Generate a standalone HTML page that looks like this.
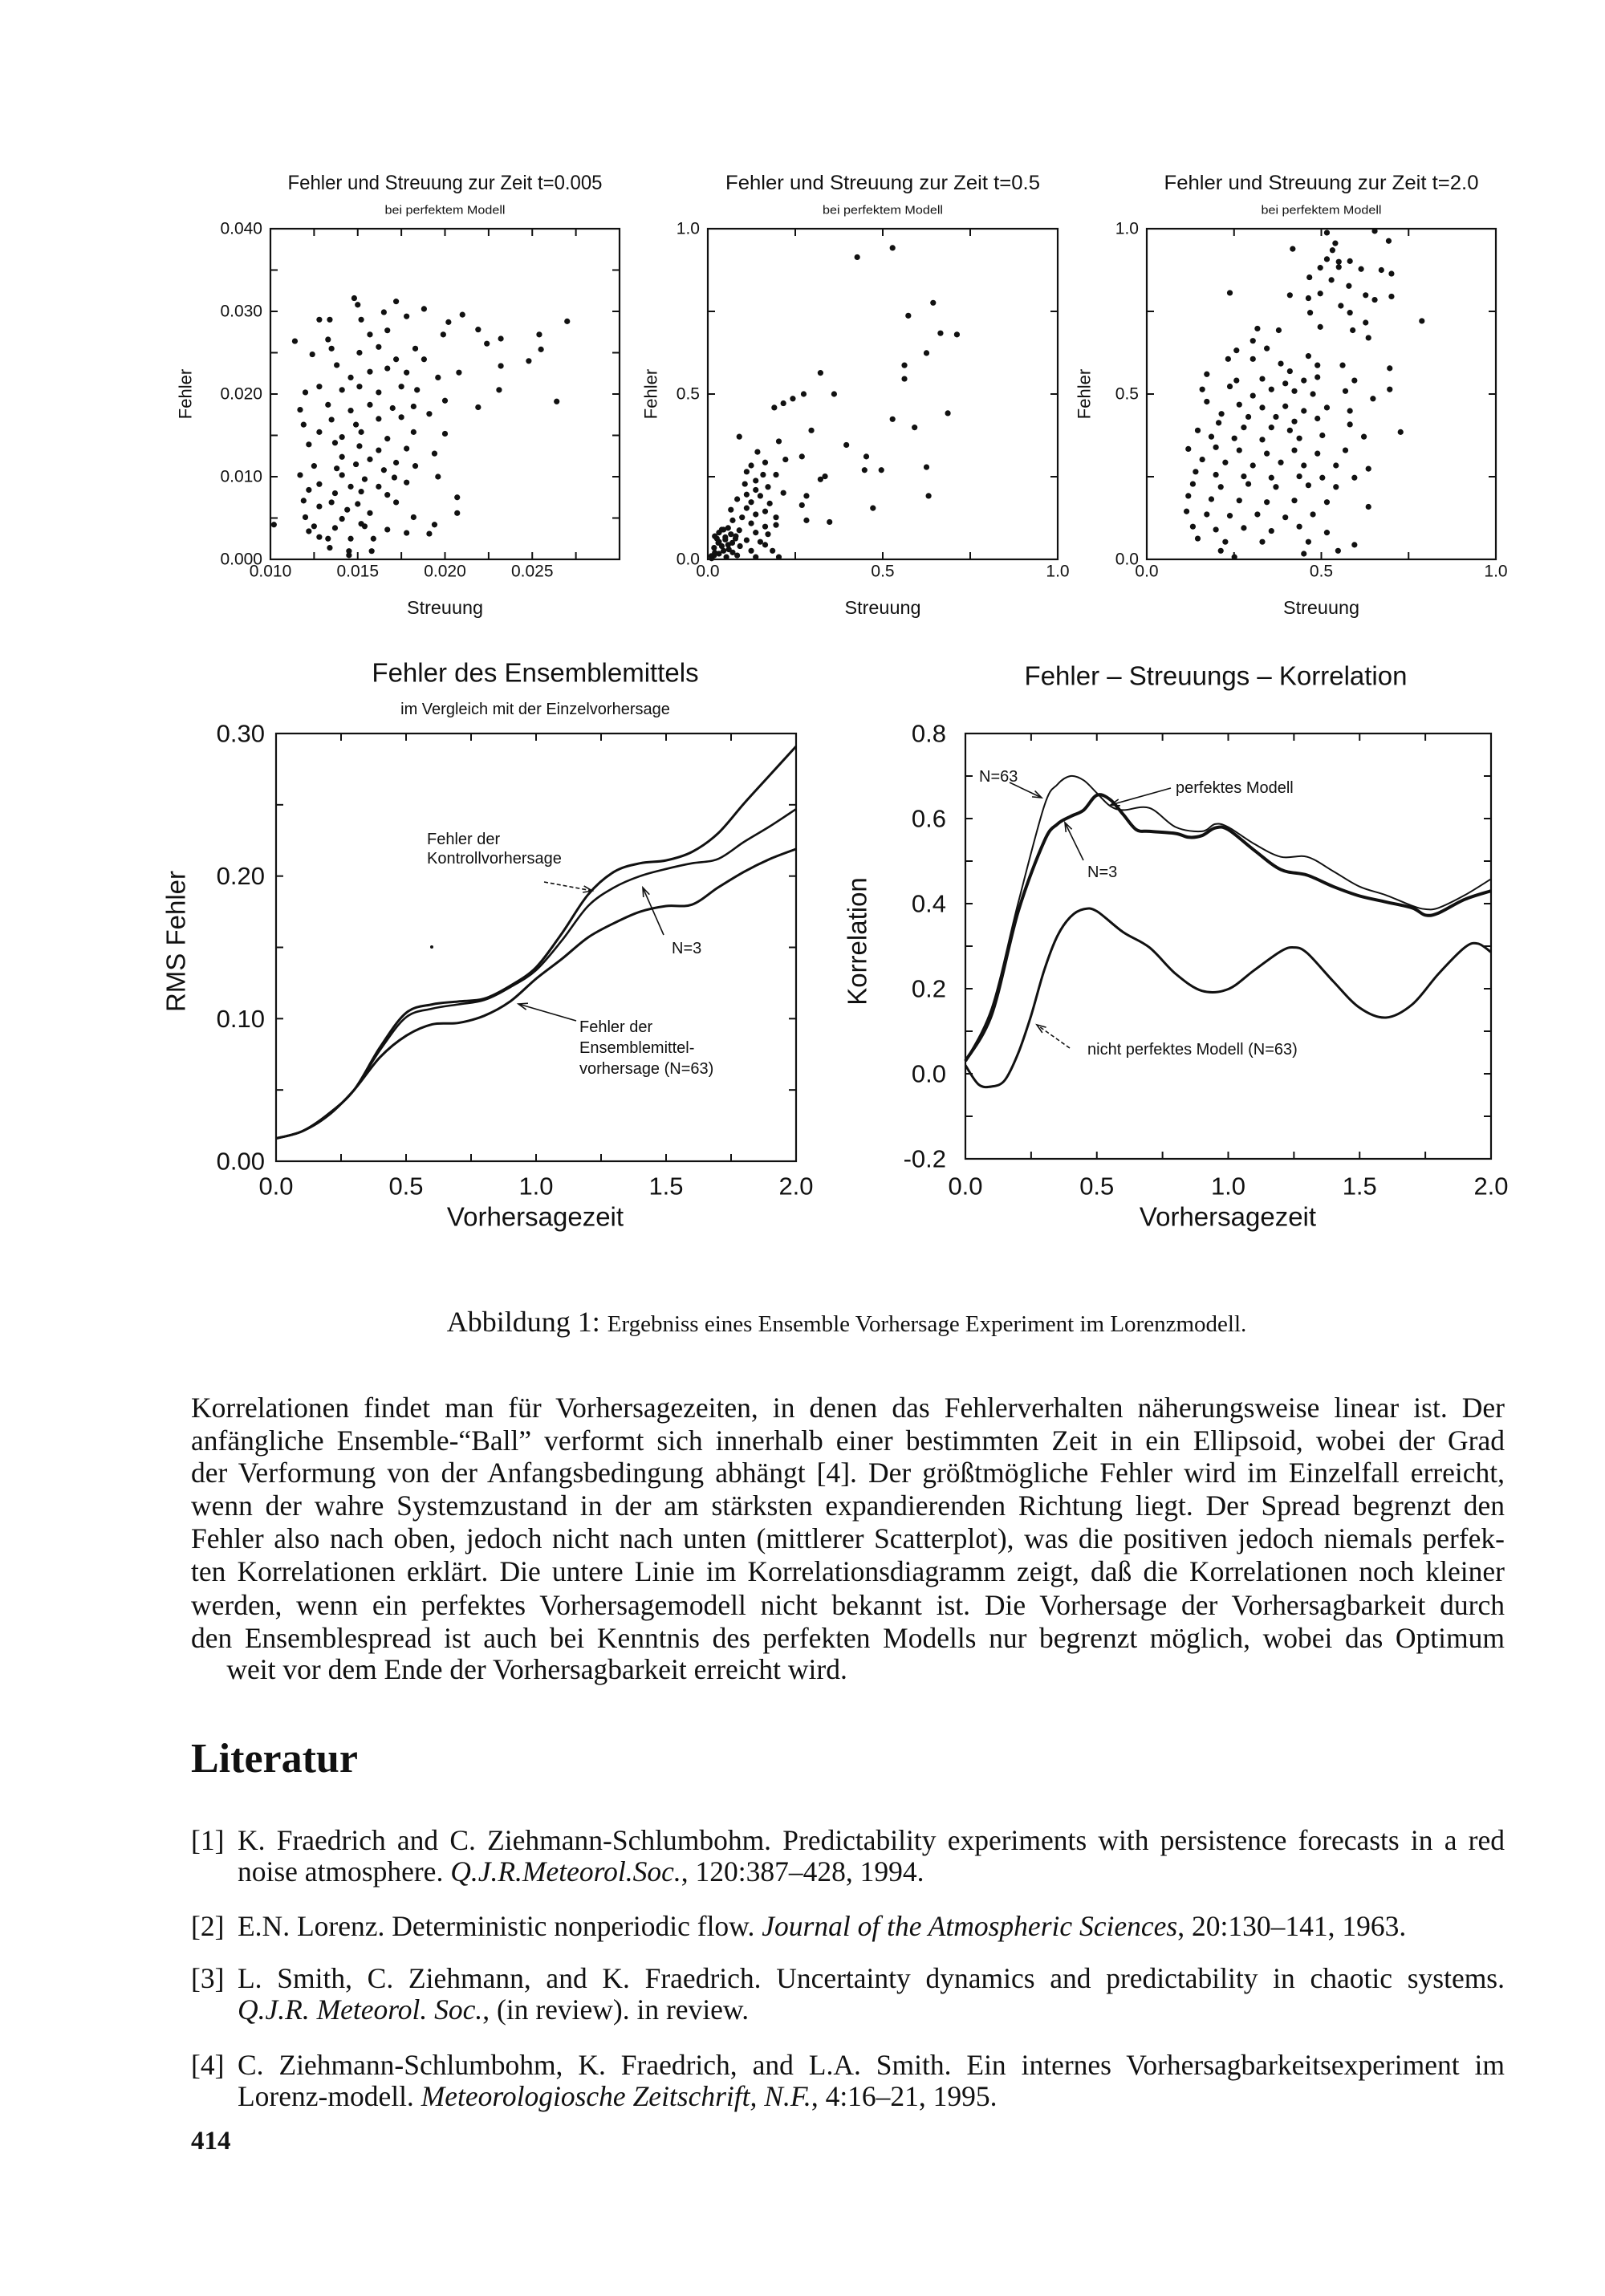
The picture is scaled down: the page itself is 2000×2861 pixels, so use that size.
<!DOCTYPE html>
<html><head><meta charset="utf-8">
<style>
html,body{margin:0;padding:0;background:#fff;}
body{width:2000px;height:2861px;position:relative;overflow:hidden;}
.t{position:absolute;font-family:"Liberation Serif",serif;color:#111;white-space:nowrap;}
.ln{position:absolute;left:238px;width:1637px;font-family:"Liberation Serif",serif;font-size:35.5px;color:#111;text-align:justify;text-align-last:justify;white-space:nowrap;line-height:40px;}
.rl{position:absolute;left:296px;width:1579px;font-family:"Liberation Serif",serif;font-size:35.5px;color:#111;text-align:justify;text-align-last:justify;white-space:nowrap;line-height:40px;}
.ln.last,.rl.last{text-align:left;text-align-last:left;}
</style></head>
<body>
<svg id="fig" width="2000" height="1580" style="position:absolute;left:0;top:0" xmlns="http://www.w3.org/2000/svg" font-family="Liberation Sans, sans-serif"></svg>

<div class="t" style="left:0;width:2110px;text-align:center;top:1626px;font-size:36px;">Abbildung 1: <span style="font-size:29px">Ergebniss eines Ensemble Vorhersage Experiment im Lorenzmodell.</span></div>

<div>
<div class="ln" style="top:1734px">Korrelationen findet man für Vorhersagezeiten, in denen das Fehlerverhalten näherungsweise linear ist. Der</div>
<div class="ln" style="top:1775px">anfängliche Ensemble-“Ball” verformt sich innerhalb einer bestimmten Zeit in ein Ellipsoid, wobei der Grad</div>
<div class="ln" style="top:1815px">der Verformung von der Anfangsbedingung abhängt [4]. Der größtmögliche Fehler wird im Einzelfall erreicht,</div>
<div class="ln" style="top:1856px">wenn der wahre Systemzustand in der am stärksten expandierenden Richtung liegt. Der Spread begrenzt den</div>
<div class="ln" style="top:1897px">Fehler also nach oben, jedoch nicht nach unten (mittlerer Scatterplot), was die positiven jedoch niemals perfek-</div>
<div class="ln" style="top:1938px">ten Korrelationen erklärt. Die untere Linie im Korrelationsdiagramm zeigt, daß die Korrelationen noch kleiner</div>
<div class="ln" style="top:1980px">werden, wenn ein perfektes Vorhersagemodell nicht bekannt ist. Die Vorhersage der Vorhersagbarkeit durch</div>
<div class="ln" style="top:2021px">den Ensemblespread ist auch bei Kenntnis des perfekten Modells nur begrenzt möglich, wobei das Optimum</div>
<div class="ln last" style="top:2060px">&nbsp;&nbsp;&nbsp;&nbsp;&nbsp;weit vor dem Ende der Vorhersagbarkeit erreicht wird.</div>
</div>

<div class="t" style="left:238px;top:2162px;font-size:52px;font-weight:bold;">Literatur</div>

<div>
<div class="t" style="left:238px;top:2273px;font-size:35.5px;line-height:40px;">[1]</div>
<div class="rl" style="top:2273px">K. Fraedrich and C. Ziehmann-Schlumbohm. Predictability experiments with persistence forecasts in a red</div>
<div class="rl last" style="top:2312px">noise atmosphere. <i>Q.J.R.Meteorol.Soc.</i>, 120:387–428, 1994.</div>
<div class="t" style="left:238px;top:2380px;font-size:35.5px;line-height:40px;">[2]</div>
<div class="rl last" style="top:2380px">E.N. Lorenz. Deterministic nonperiodic flow. <i>Journal of the Atmospheric Sciences</i>, 20:130–141, 1963.</div>
<div class="t" style="left:238px;top:2445px;font-size:35.5px;line-height:40px;">[3]</div>
<div class="rl" style="top:2445px">L. Smith, C. Ziehmann, and K. Fraedrich. Uncertainty dynamics and predictability in chaotic systems.</div>
<div class="rl last" style="top:2484px"><i>Q.J.R. Meteorol. Soc.</i>, (in review). in review.</div>
<div class="t" style="left:238px;top:2553px;font-size:35.5px;line-height:40px;">[4]</div>
<div class="rl" style="top:2553px">C. Ziehmann-Schlumbohm, K. Fraedrich, and L.A. Smith. Ein internes Vorhersagbarkeitsexperiment im</div>
<div class="rl last" style="top:2592px">Lorenz-modell. <i>Meteorologiosche Zeitschrift, N.F.</i>, 4:16–21, 1995.</div>
</div>
<div class="t" style="left:238px;top:2650px;font-size:33px;font-weight:bold;">414</div>

<script>
// ---------- data ----------
const s1Spread=[.0148,.0150,.0172,.0188,.0210,.0128,.0134,.0152,.0165,.0178,.0202,.0270,.0114,.0133,.0157,.0167,.0199,.0219,.0232,.0254,.0224,.0255,.0248,.0232,.0208,.0124,.0135,.0151,.0162,.0172,.0183,.0188,.0196,.0138,.0146,.0157,.0167,.0178,.0120,.0128,.0141,.0151,.0162,.0175,.0184,.0231,.0200,.0219,.0264,.0117,.0133,.0146,.0157,.0170,.0182,.0135,.0149,.0162,.0175,.0191,.0119,.0128,.0141,.0152,.0167,.0182,.0200,.0122,.0137,.0151,.0162,.0178,.0141,.0157,.0172,.0194,.0125,.0138,.0149,.0165,.0183,.0117,.0141,.0154,.0171,.0196,.0128,.0146,.0162,.0178,.0122,.0137,.0152,.0167,.0135,.0150,.0172,.0207,.0119,.0128,.0144,.0157,.0207,.0120,.0141,.0152,.0182,.0125,.0137,.0154,.0167,.0194,.0122,.0128,.0133,.0146,.0159,.0178,.0191,.0134,.0145,.0158,.0145,.0102];
const s1Error=[.0316,.0308,.0312,.0303,.0296,.029,.029,.029,.0299,.0294,.0287,.0288,.0264,.0266,.0272,.0277,.0272,.0278,.0267,.0272,.0261,.0254,.024,.0234,.0226,.0248,.0255,.025,.0257,.0242,.0255,.0242,.022,.0235,.022,.0227,.0231,.0226,.0202,.0209,.0205,.0209,.0202,.0209,.0205,.0205,.0192,.0184,.0191,.0181,.0187,.018,.0187,.0183,.0185,.0169,.0163,.017,.0172,.0176,.0163,.0154,.0148,.0154,.0146,.0154,.0152,.0139,.0141,.0137,.0132,.0134,.0124,.0121,.0117,.0128,.0113,.011,.0115,.0108,.0113,.0102,.0102,.0097,.0099,.01,.0091,.0088,.0088,.0093,.0084,.008,.0082,.0078,.0069,.0067,.0069,.0075,.0071,.0064,.006,.0056,.0056,.0051,.0049,.0043,.0051,.004,.0038,.004,.0036,.0042,.0034,.0027,.0025,.0025,.0025,.0032,.0031,.0014,.001,.001,.0005,.0042];
const s2Spread=[.528,.427,.644,.573,.665,.712,.625,.562,.562,.322,.274,.361,.243,.216,.19,.686,.528,.591,.296,.09,.203,.396,.142,.269,.453,.222,.164,.124,.625,.448,.496,.111,.158,.195,.335,.322,.137,.106,.172,.137,.216,.111,.150,.282,.631,.084,.124,.177,.269,.111,.472,.066,.164,.137,.098,.195,.282,.348,.071,.124,.164,.195,.058,.09,.137,.172,.032,.05,.079,.111,.15,.032,.058,.092,.018,.045,.071,.124,.203,.018,.032,.011,.053,.084,.137,.026,.066,.045,.164,.185,.02,.04,.03,.06,.01,.05,.07,.02,.04,.08];
const s2Error=[.942,.914,.776,.737,.684,.68,.624,.587,.546,.564,.5,.5,.486,.472,.459,.442,.424,.399,.39,.371,.357,.346,.325,.311,.311,.302,.293,.284,.279,.27,.27,.265,.256,.256,.251,.242,.238,.228,.219,.21,.201,.196,.192,.192,.192,.182,.173,.169,.164,.155,.155,.15,.145,.136,.127,.127,.118,.113,.118,.109,.099,.104,.095,.088,.081,.076,.081,.067,.063,.058,.053,.053,.044,.04,.035,.026,.021,.026,.007,.012,.017,.003,.007,.012,.007,.063,.076,.09,.044,.026,.02,.04,.05,.03,.01,.06,.05,.07,.09,.07];
const s3Spread=[.516,.653,.693,.54,.418,.532,.516,.55,.582,.497,.55,.614,.672,.466,.529,.579,.701,.238,.410,.463,.497,.627,.653,.701,.556,.468,.582,.627,.788,.497,.317,.378,.590,.304,.344,.635,.257,.463,.489,.233,.304,.384,.410,.561,.696,.172,.257,.331,.397,.450,.489,.595,.159,.238,.304,.357,.423,.476,.569,.696,.648,.172,.265,.331,.397,.450,.516,.582,.214,.291,.370,.423,.489,.206,.278,.357,.410,.582,.727,.146,.185,.251,.331,.437,.503,.622,.119,.198,.265,.344,.423,.489,.569,.159,.225,.304,.384,.450,.542,.635,.140,.198,.278,.357,.437,.503,.595,.132,.212,.291,.370,.463,.542,.119,.185,.265,.344,.423,.516,.114,.172,.238,.317,.397,.476,.635,.132,.198,.278,.357,.437,.516,.146,.225,.331,.463,.595,.212,.450,.251,.548];
const s3Error=[.988,.993,.963,.956,.939,.935,.908,.9,.902,.882,.884,.878,.875,.853,.845,.827,.864,.806,.799,.79,.804,.799,.785,.795,.767,.746,.746,.716,.721,.703,.698,.693,.693,.661,.638,.67,.632,.615,.587,.606,.606,.592,.569,.587,.578,.56,.541,.546,.532,.541,.551,.541,.514,.523,.495,.514,.509,.5,.509,.514,.486,.477,.468,.459,.463,.449,.459,.449,.44,.431,.431,.417,.426,.413,.399,.399,.39,.408,.385,.39,.371,.366,.362,.366,.375,.371,.334,.339,.33,.32,.33,.32,.33,.302,.293,.284,.293,.284,.284,.274,.265,.256,.251,.247,.251,.247,.247,.228,.219,.228,.219,.224,.219,.192,.182,.178,.173,.178,.173,.145,.136,.132,.136,.127,.136,.159,.099,.09,.095,.086,.099,.081,.063,.053,.053,.053,.044,.026,.017,.007,.026];

const rmsTime=[0,0.1,0.2,0.3,0.4,0.5,0.6,0.7,0.8,0.9,1.0,1.1,1.2,1.3,1.4,1.5,1.6,1.7,1.8,1.9,2.0];
const rmsControl=[0.016,0.021,0.033,0.050,0.080,0.104,0.110,0.112,0.114,0.123,0.136,0.160,0.187,0.203,0.209,0.211,0.217,0.230,0.251,0.271,0.291];
const rmsN3=[0.016,0.021,0.033,0.050,0.078,0.101,0.107,0.110,0.113,0.122,0.134,0.155,0.179,0.192,0.200,0.205,0.209,0.212,0.224,0.235,0.247];
const rmsN63=[0.016,0.021,0.032,0.050,0.073,0.088,0.096,0.097,0.102,0.112,0.128,0.142,0.157,0.167,0.175,0.179,0.180,0.192,0.203,0.212,0.219];

const corTimeA=[0,0.1,0.2,0.3,0.35,0.4,0.45,0.5,0.55,0.6,0.7,0.8,0.9,0.95,1.0,1.1,1.2,1.3,1.4,1.5,1.6,1.7,1.75,1.8,1.9,2.0];
const corN63=[0.03,0.155,0.40,0.63,0.68,0.70,0.69,0.66,0.63,0.62,0.625,0.58,0.57,0.587,0.58,0.54,0.51,0.51,0.476,0.44,0.42,0.395,0.387,0.39,0.42,0.458];
const corTimeB=[0,0.1,0.2,0.3,0.35,0.4,0.45,0.5,0.55,0.6,0.65,0.7,0.8,0.85,0.9,0.95,1.0,1.1,1.2,1.3,1.4,1.5,1.6,1.7,1.75,1.8,1.9,2.0];
const corN3=[0.03,0.14,0.38,0.547,0.587,0.605,0.62,0.655,0.645,0.61,0.574,0.57,0.565,0.556,0.56,0.578,0.574,0.525,0.48,0.467,0.44,0.418,0.404,0.39,0.373,0.378,0.41,0.43];
const corTimeC=[0,0.05,0.1,0.15,0.2,0.25,0.3,0.35,0.4,0.45,0.5,0.6,0.7,0.8,0.9,1.0,1.1,1.2,1.25,1.3,1.4,1.5,1.6,1.7,1.8,1.9,1.95,2.0];
const corImperfect=[0.02,-0.025,-0.03,-0.015,0.047,0.137,0.244,0.324,0.369,0.387,0.382,0.333,0.297,0.235,0.195,0.199,0.244,0.288,0.297,0.284,0.217,0.155,0.132,0.163,0.235,0.297,0.306,0.286];

const s1XTicks=["0.010","0.015","0.020","0.025"];
const s1YTicks=["0.000","0.010","0.020","0.030","0.040"];
const unitTicks=["0.0","0.5","1.0"];
const rmsYTicks=["0.00","0.10","0.20","0.30"];
const corYTicks=["-0.2","0.0","0.2","0.4","0.6","0.8"];
const timeTicks=["0.0","0.5","1.0","1.5","2.0"];

// ---------- helpers ----------
const NS="http://www.w3.org/2000/svg";
const svg=document.getElementById('fig');
function mk(tag,attrs,parent){const e=document.createElementNS(NS,tag);for(const k in attrs)e.setAttribute(k,attrs[k]);(parent||svg).appendChild(e);return e;}
function txt(s,x,y,size,anchor,parent,extra){const e=mk('text',Object.assign({x:x,y:y,'font-size':size,'text-anchor':anchor||'middle','dominant-baseline':'central',fill:'#111'},extra||{}),parent);e.textContent=s;return e;}
function lin(d0,d1,r0,r1){return v=>r0+(v-d0)/(d1-d0)*(r1-r0);}

function frame(g,x0,x1,y0,y1,xt,yt,X,Y){
  mk('rect',{x:x0,y:y0,width:x1-x0,height:y1-y0,fill:'none',stroke:'#111','stroke-width':2.2},g);
  xt.forEach(v=>{mk('line',{x1:X(v),x2:X(v),y1:y1,y2:y1-9,stroke:'#111','stroke-width':2},g);mk('line',{x1:X(v),x2:X(v),y1:y0,y2:y0+9,stroke:'#111','stroke-width':2},g);});
  yt.forEach(v=>{mk('line',{x1:x0,x2:x0+9,y1:Y(v),y2:Y(v),stroke:'#111','stroke-width':2},g);mk('line',{x1:x1,x2:x1-9,y1:Y(v),y2:Y(v),stroke:'#111','stroke-width':2},g);});
}

// ---------- scatter plots ----------
function scatter(name,x0,x1,xd,yd,xs,ys,xLab,yLab,title,xTickVals,yTickVals,minorX,minorY,labOff){
  const g=mk('g',{});
  
  
  const y0=285,y1=697;
  const X=lin(xd[0],xd[1],x0,x1),Y=lin(yd[0],yd[1],y1,y0);
  frame(g,x0,x1,y0,y1,minorX,minorY,X,Y);
  const tt=txt(title,(x0+x1)/2,228,25,'middle',g,{textLength:392,lengthAdjust:'spacingAndGlyphs'});
  
  
  const st=txt('bei perfektem Modell',(x0+x1)/2,262,15,'middle',g,{textLength:150,lengthAdjust:'spacingAndGlyphs'});
  
  
  xTickVals.forEach((v,i)=>{const t=txt(xLab[i],X(v),712,21,'middle',g);});
  yTickVals.forEach((v,i)=>{const t=txt(yLab[i],x0-10,Y(v),21,'end',g);});
  const xl=txt('Streuung',(x0+x1)/2,757,23,'middle',g,{textLength:95,lengthAdjust:'spacingAndGlyphs'});
  
  
  const yx=x0-labOff, yy=491;
  const yl=txt('Fehler',yx,yy,22,'middle',g,{transform:'rotate(-90 '+yx+' '+yy+')'});
  
  
  xs.forEach((v,i)=>{const c=mk('circle',{cx:X(v),cy:Y(ys[i]),r:3.6,fill:'#111'},g);
    
    });
}
scatter('scatter-t0005',337,772,[0.010,0.030],[0,0.04],s1Spread,s1Error,s1XTicks,s1YTicks,'Fehler  und Streuung zur Zeit t=0.005',[0.010,0.015,0.020,0.025],[0,0.01,0.02,0.03,0.04],[0.0125,0.015,0.0175,0.02,0.0225,0.025,0.0275],[0.005,0.01,0.015,0.02,0.025,0.03,0.035],106);
scatter('scatter-t05',882,1318,[0,1],[0,1],s2Spread,s2Error,unitTicks,unitTicks,'Fehler  und Streuung zur Zeit t=0.5',[0,0.5,1],[0,0.5,1],[0.25,0.5,0.75],[0.25,0.5,0.75],71);
scatter('scatter-t2',1429,1864,[0,1],[0,1],s3Spread,s3Error,unitTicks,unitTicks,'Fehler  und Streuung zur Zeit t=2.0',[0,0.5,1],[0,0.5,1],[0.25,0.5,0.75],[0.25,0.5,0.75],78);

// ---------- line charts ----------
function smoothPath(xs,ys,X,Y){
  const P=xs.map((v,i)=>[X(v),Y(ys[i])]);
  let d='M'+P[0][0]+','+P[0][1];
  for(let i=0;i<P.length-1;i++){
    const p0=P[Math.max(0,i-1)],p1=P[i],p2=P[i+1],p3=P[Math.min(P.length-1,i+2)];
    const c1=[p1[0]+(p2[0]-p0[0])/6,p1[1]+(p2[1]-p0[1])/6],c2=[p2[0]-(p3[0]-p1[0])/6,p2[1]-(p3[1]-p1[1])/6];
    d+=' C'+c1[0].toFixed(1)+','+c1[1].toFixed(1)+' '+c2[0].toFixed(1)+','+c2[1].toFixed(1)+' '+p2[0].toFixed(1)+','+p2[1].toFixed(1);
  }
  return d;
}
function arrow(g,x1,y1,x2,y2,dash){
  mk('line',{x1:x1,y1:y1,x2:x2,y2:y2,stroke:'#111','stroke-width':1.6,'stroke-dasharray':dash?'5,3':'none'},g);
  const a=Math.atan2(y2-y1,x2-x1),L=12;
  mk('path',{d:'M'+(x2-L*Math.cos(a-0.35))+','+(y2-L*Math.sin(a-0.35))+' L'+x2+','+y2+' L'+(x2-L*Math.cos(a+0.35))+','+(y2-L*Math.sin(a+0.35)),fill:'none',stroke:'#111','stroke-width':1.6},g);
}

// RMS chart
(function(){
  const g=mk('g',{});
  
  
  const x0=344,x1=992,y0=914,y1=1447;
  const X=lin(0,2,x0,x1),Y=lin(0,0.3,y1,y0);
  frame(g,x0,x1,y0,y1,[0.25,0.5,0.75,1,1.25,1.5,1.75],[0.05,0.1,0.15,0.2,0.25],X,Y);
  const t=txt('Fehler des Ensemblemittels',667,838,33,'middle',g);
  
  
  const st=txt('im Vergleich mit der Einzelvorhersage',667,884,20,'middle',g);
  
  
  [0,0.1,0.2,0.3].forEach((v,i)=>{const e=txt(rmsYTicks[i],x0-14,Y(v),31,'end',g);});
  [0,0.5,1,1.5,2].forEach((v,i)=>{const e=txt(timeTicks[i],X(v),1478,31,'middle',g);});
  const xl=txt('Vorhersagezeit',667,1516,33,'middle',g);
  
  
  const yl=txt('RMS Fehler',219,1173,33,'middle',g,{transform:'rotate(-90 219 1173)'});
  
  
  const a=mk('path',{d:smoothPath(rmsTime,rmsControl,X,Y),fill:'none',stroke:'#111','stroke-width':3},g);
  
  
  const b=mk('path',{d:smoothPath(rmsTime,rmsN3,X,Y),fill:'none',stroke:'#111','stroke-width':2.6},g);
  
  
  const c=mk('path',{d:smoothPath(rmsTime,rmsN63,X,Y),fill:'none',stroke:'#111','stroke-width':3},g);
  
  
  txt('Fehler der',532,1046,20,'start',g);
  txt('Kontrollvorhersage',532,1070,20,'start',g);
  arrow(g,678,1099,738,1110,true);
  txt('N=3',837,1182,20,'start',g);
  arrow(g,827,1165,801,1106,false);
  txt('Fehler der',722,1280,20,'start',g);
  txt('Ensemblemittel-',722,1306,20,'start',g);
  txt('vorhersage (N=63)',722,1332,20,'start',g);
  arrow(g,718,1272,646,1251,false);
  mk('circle',{cx:538,cy:1180,r:2,fill:'#111'},g);
})();

// Correlation chart
(function(){
  const g=mk('g',{});
  
  
  const x0=1203,x1=1858,y0=914,y1=1444;
  const X=lin(0,2,x0,x1),Y=lin(-0.2,0.8,y1,y0);
  frame(g,x0,x1,y0,y1,[0.25,0.5,0.75,1,1.25,1.5,1.75],[-0.1,0,0.1,0.2,0.3,0.4,0.5,0.6,0.7],X,Y);
  const t=txt('Fehler – Streuungs – Korrelation',1515,842,33,'middle',g);
  
  
  [-0.2,0,0.2,0.4,0.6,0.8].forEach((v,i)=>{const e=txt(corYTicks[i],x0-24,Y(v),31,'end',g);});
  [0,0.5,1,1.5,2].forEach((v,i)=>{const e=txt(timeTicks[i],X(v),1478,31,'middle',g);});
  const xl=txt('Vorhersagezeit',1530,1516,33,'middle',g);
  
  
  const yl=txt('Korrelation',1068,1173,33,'middle',g,{transform:'rotate(-90 1068 1173)'});
  
  
  const a=mk('path',{d:smoothPath(corTimeA,corN63,X,Y),fill:'none',stroke:'#111','stroke-width':2},g);
  
  
  const b=mk('path',{d:smoothPath(corTimeB,corN3,X,Y),fill:'none',stroke:'#111','stroke-width':4},g);
  
  
  const c=mk('path',{d:smoothPath(corTimeC,corImperfect,X,Y),fill:'none',stroke:'#111','stroke-width':3},g);
  
  
  txt('N=63',1220,968,20,'start',g);
  arrow(g,1258,975,1298,994,false);
  txt('perfektes Modell',1465,982,20,'start',g);
  arrow(g,1459,982,1384,1003,false);
  txt('N=3',1355,1087,20,'start',g);
  arrow(g,1350,1072,1327,1025,false);
  txt('nicht perfektes Modell (N=63)',1355,1308,20,'start',g);
  arrow(g,1333,1306,1292,1277,true);
})();
</script>
</body></html>
